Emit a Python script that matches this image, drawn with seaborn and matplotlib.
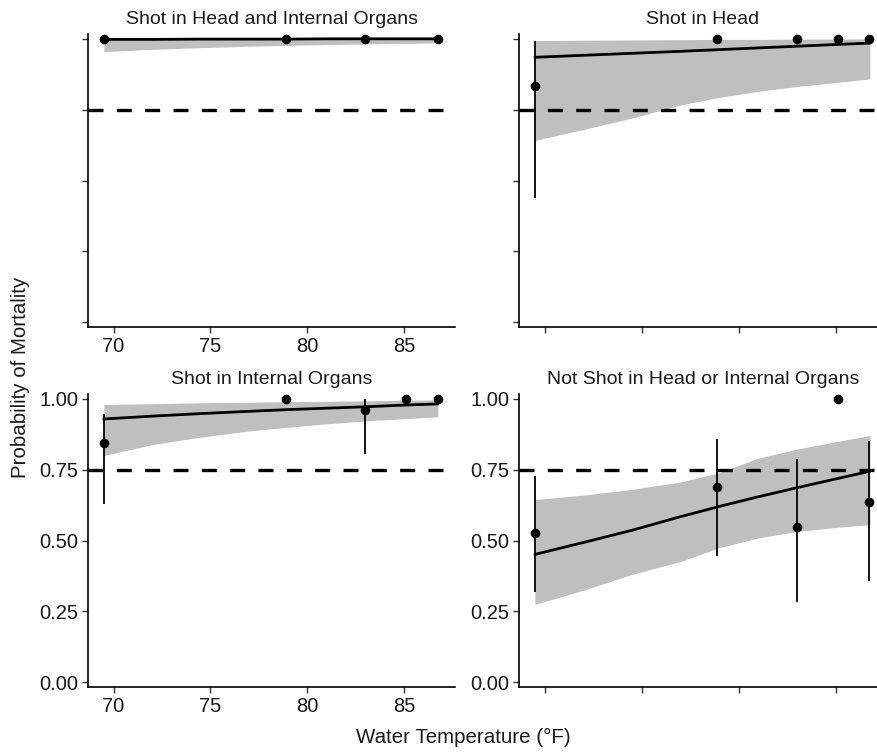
import numpy as np
import pandas as pd
import seaborn as sns
import matplotlib.pyplot as plt

# ---------------- data ----------------
panel_titles = ["Shot in Head and Internal Organs", "Shot in Head",
                "Shot in Internal Organs", "Not Shot in Head or Internal Organs"]

fit_temp = [69.5, 72.0, 74.5, 77.0, 79.0, 81.0, 83.0, 85.0, 86.75]

# Shot in Head and Internal Organs
hio_temp = [69.5, 78.9, 83.0, 86.75]
hio_prop = [1.0, 1.0, 1.0, 1.0]
hio_lo = [1.0, 1.0, 1.0, 1.0]
hio_hi = [1.0, 1.0, 1.0, 1.0]
hio_fit = [0.997, 0.997, 0.998, 0.998, 0.998, 0.999, 0.999, 0.999, 0.999]
hio_fit_lo = [0.954, 0.962, 0.968, 0.973, 0.976, 0.979, 0.981, 0.983, 0.985]
hio_fit_hi = [1.0, 1.0, 1.0, 1.0, 1.0, 1.0, 1.0, 1.0, 1.0]

# Shot in Head
head_temp = [69.5, 78.9, 83.0, 85.1, 86.7]
head_prop = [0.834, 1.0, 1.0, 1.0, 1.0]
head_lo = [0.440, 1.0, 1.0, 1.0, 1.0]
head_hi = [0.993, 1.0, 1.0, 1.0, 1.0]
head_fit = [0.934, 0.941, 0.948, 0.955, 0.961, 0.967, 0.973, 0.979, 0.984]
head_fit_lo = [0.641, 0.680, 0.720, 0.766, 0.793, 0.814, 0.831, 0.845, 0.858]
head_fit_hi = [0.993, 0.994, 0.995, 0.996, 0.997, 0.997, 0.998, 0.998, 0.999]

# Shot in Internal Organs
org_temp = [69.5, 78.9, 83.0, 85.1, 86.75]
org_prop = [0.844, 1.0, 0.959, 1.0, 1.0]
org_lo = [0.627, 1.0, 0.806, 1.0, 1.0]
org_hi = [0.944, 1.0, 1.0, 1.0, 1.0]
org_fit = [0.928, 0.938, 0.947, 0.955, 0.961, 0.966, 0.971, 0.977, 0.981]
org_fit_lo = [0.799, 0.838, 0.864, 0.886, 0.899, 0.911, 0.921, 0.929, 0.936]
org_fit_hi = [0.979, 0.982, 0.985, 0.987, 0.989, 0.990, 0.992, 0.994, 0.995]

# Not Shot in Head or Internal Organs
not_temp = [69.5, 78.9, 83.0, 85.1, 86.7]
not_prop = [0.527, 0.688, 0.547, 1.0, 0.637]
not_lo = [0.319, 0.445, 0.282, 1.0, 0.356]
not_hi = [0.727, 0.858, 0.788, 1.0, 0.852]
not_fit = [0.451, 0.493, 0.536, 0.584, 0.620, 0.654, 0.686, 0.717, 0.744]
not_fit_lo = [0.275, 0.325, 0.381, 0.426, 0.475, 0.509, 0.532, 0.546, 0.556]
not_fit_hi = [0.644, 0.660, 0.680, 0.706, 0.739, 0.790, 0.822, 0.848, 0.870]

x_ticks = [70, 75, 80, 85]
y_ticks = [0.00, 0.25, 0.50, 0.75, 1.00]
y_tick_labels = ["0.00", "0.25", "0.50", "0.75", "1.00"]
threshold = 0.75

# ---------------- style ----------------
sns.set_theme(style="ticks")
plt.rcParams['font.family'] = ['Liberation Sans', 'DejaVu Sans']

W, H = 877, 752
fig = plt.figure(figsize=(W / 100, H / 100), dpi=100)

def px_axes(x0, x1, ytop, ybot):
    return fig.add_axes([x0 / W, 1 - ybot / H, (x1 - x0) / W, (ybot - ytop) / H])

layout = [
    (88, 455, 34, 327),
    (519, 887, 34, 327),
    (88, 455, 394, 687),
    (519, 887, 394, 687),
]
show_x = [True, False, True, False]
show_y = [False, False, True, True]

panel_data = [
    (hio_temp, hio_prop, hio_lo, hio_hi, hio_fit, hio_fit_lo, hio_fit_hi),
    (head_temp, head_prop, head_lo, head_hi, head_fit, head_fit_lo, head_fit_hi),
    (org_temp, org_prop, org_lo, org_hi, org_fit, org_fit_lo, org_fit_hi),
    (not_temp, not_prop, not_lo, not_hi, not_fit, not_fit_lo, not_fit_hi),
]

fs_title = 14
fs_tick = 14.5
fs_label = 14.8
txt_col = "#1a1a1a"
for i, (title, box, data) in enumerate(zip(panel_titles, layout, panel_data)):
    ax = px_axes(*box)
    temp, prop, lo, hi, fit, flo, fhi = data
    pts = pd.DataFrame({"temp": temp, "prop": prop, "lo": lo, "hi": hi})
    fitdf = pd.DataFrame({"temp": fit_temp, "fit": fit, "lo": flo, "hi": fhi})

    ax.fill_between(fitdf["temp"], fitdf["lo"], fitdf["hi"], color="#bfbfbf",
                    lw=0, zorder=1)
    ax.axhline(threshold, color="black", lw=2.4, dashes=(4.5, 4), zorder=2)
    ax.vlines(pts["temp"], pts["lo"], pts["hi"], color="black", lw=1.3, zorder=3)
    sns.lineplot(data=fitdf, x="temp", y="fit", color="black", lw=2.0, ax=ax,
                 zorder=4)
    sns.scatterplot(data=pts, x="temp", y="prop", color="black", s=48,
                    edgecolor="black", linewidth=0, ax=ax, zorder=5)

    ax.set_xlim(68.68, 87.63)
    ax.set_ylim(-0.016, 1.016)
    ax.set_xticks(x_ticks)
    ax.set_yticks(y_ticks)
    if show_x[i]:
        ax.set_xticklabels([str(t) for t in x_ticks])
    else:
        ax.set_xticklabels([])
    if show_y[i]:
        ax.set_yticklabels(y_tick_labels)
    else:
        ax.set_yticklabels([])
    ax.tick_params(axis="both", length=4, width=1.0, color="#333333",
                   labelsize=fs_tick, labelcolor=txt_col, pad=3)
    ax.set_xlabel("")
    ax.set_ylabel("")
    for s in ["top", "right"]:
        ax.spines[s].set_visible(False)
    for s in ["left", "bottom"]:
        ax.spines[s].set_linewidth(1.2)
        ax.spines[s].set_color("black")
    ax.set_title(title, fontsize=fs_title, color=txt_col, pad=7)

fig.text(21 / W, 1 - 377 / H, "Probability of Mortality", rotation=90,
         ha="center", va="center", fontsize=fs_label, color=txt_col)
fig.text(463 / W, 1 - 737 / H, "Water Temperature (°F)", ha="center",
         va="center", fontsize=fs_label, color=txt_col)

fig.savefig("out.png", dpi=100)
